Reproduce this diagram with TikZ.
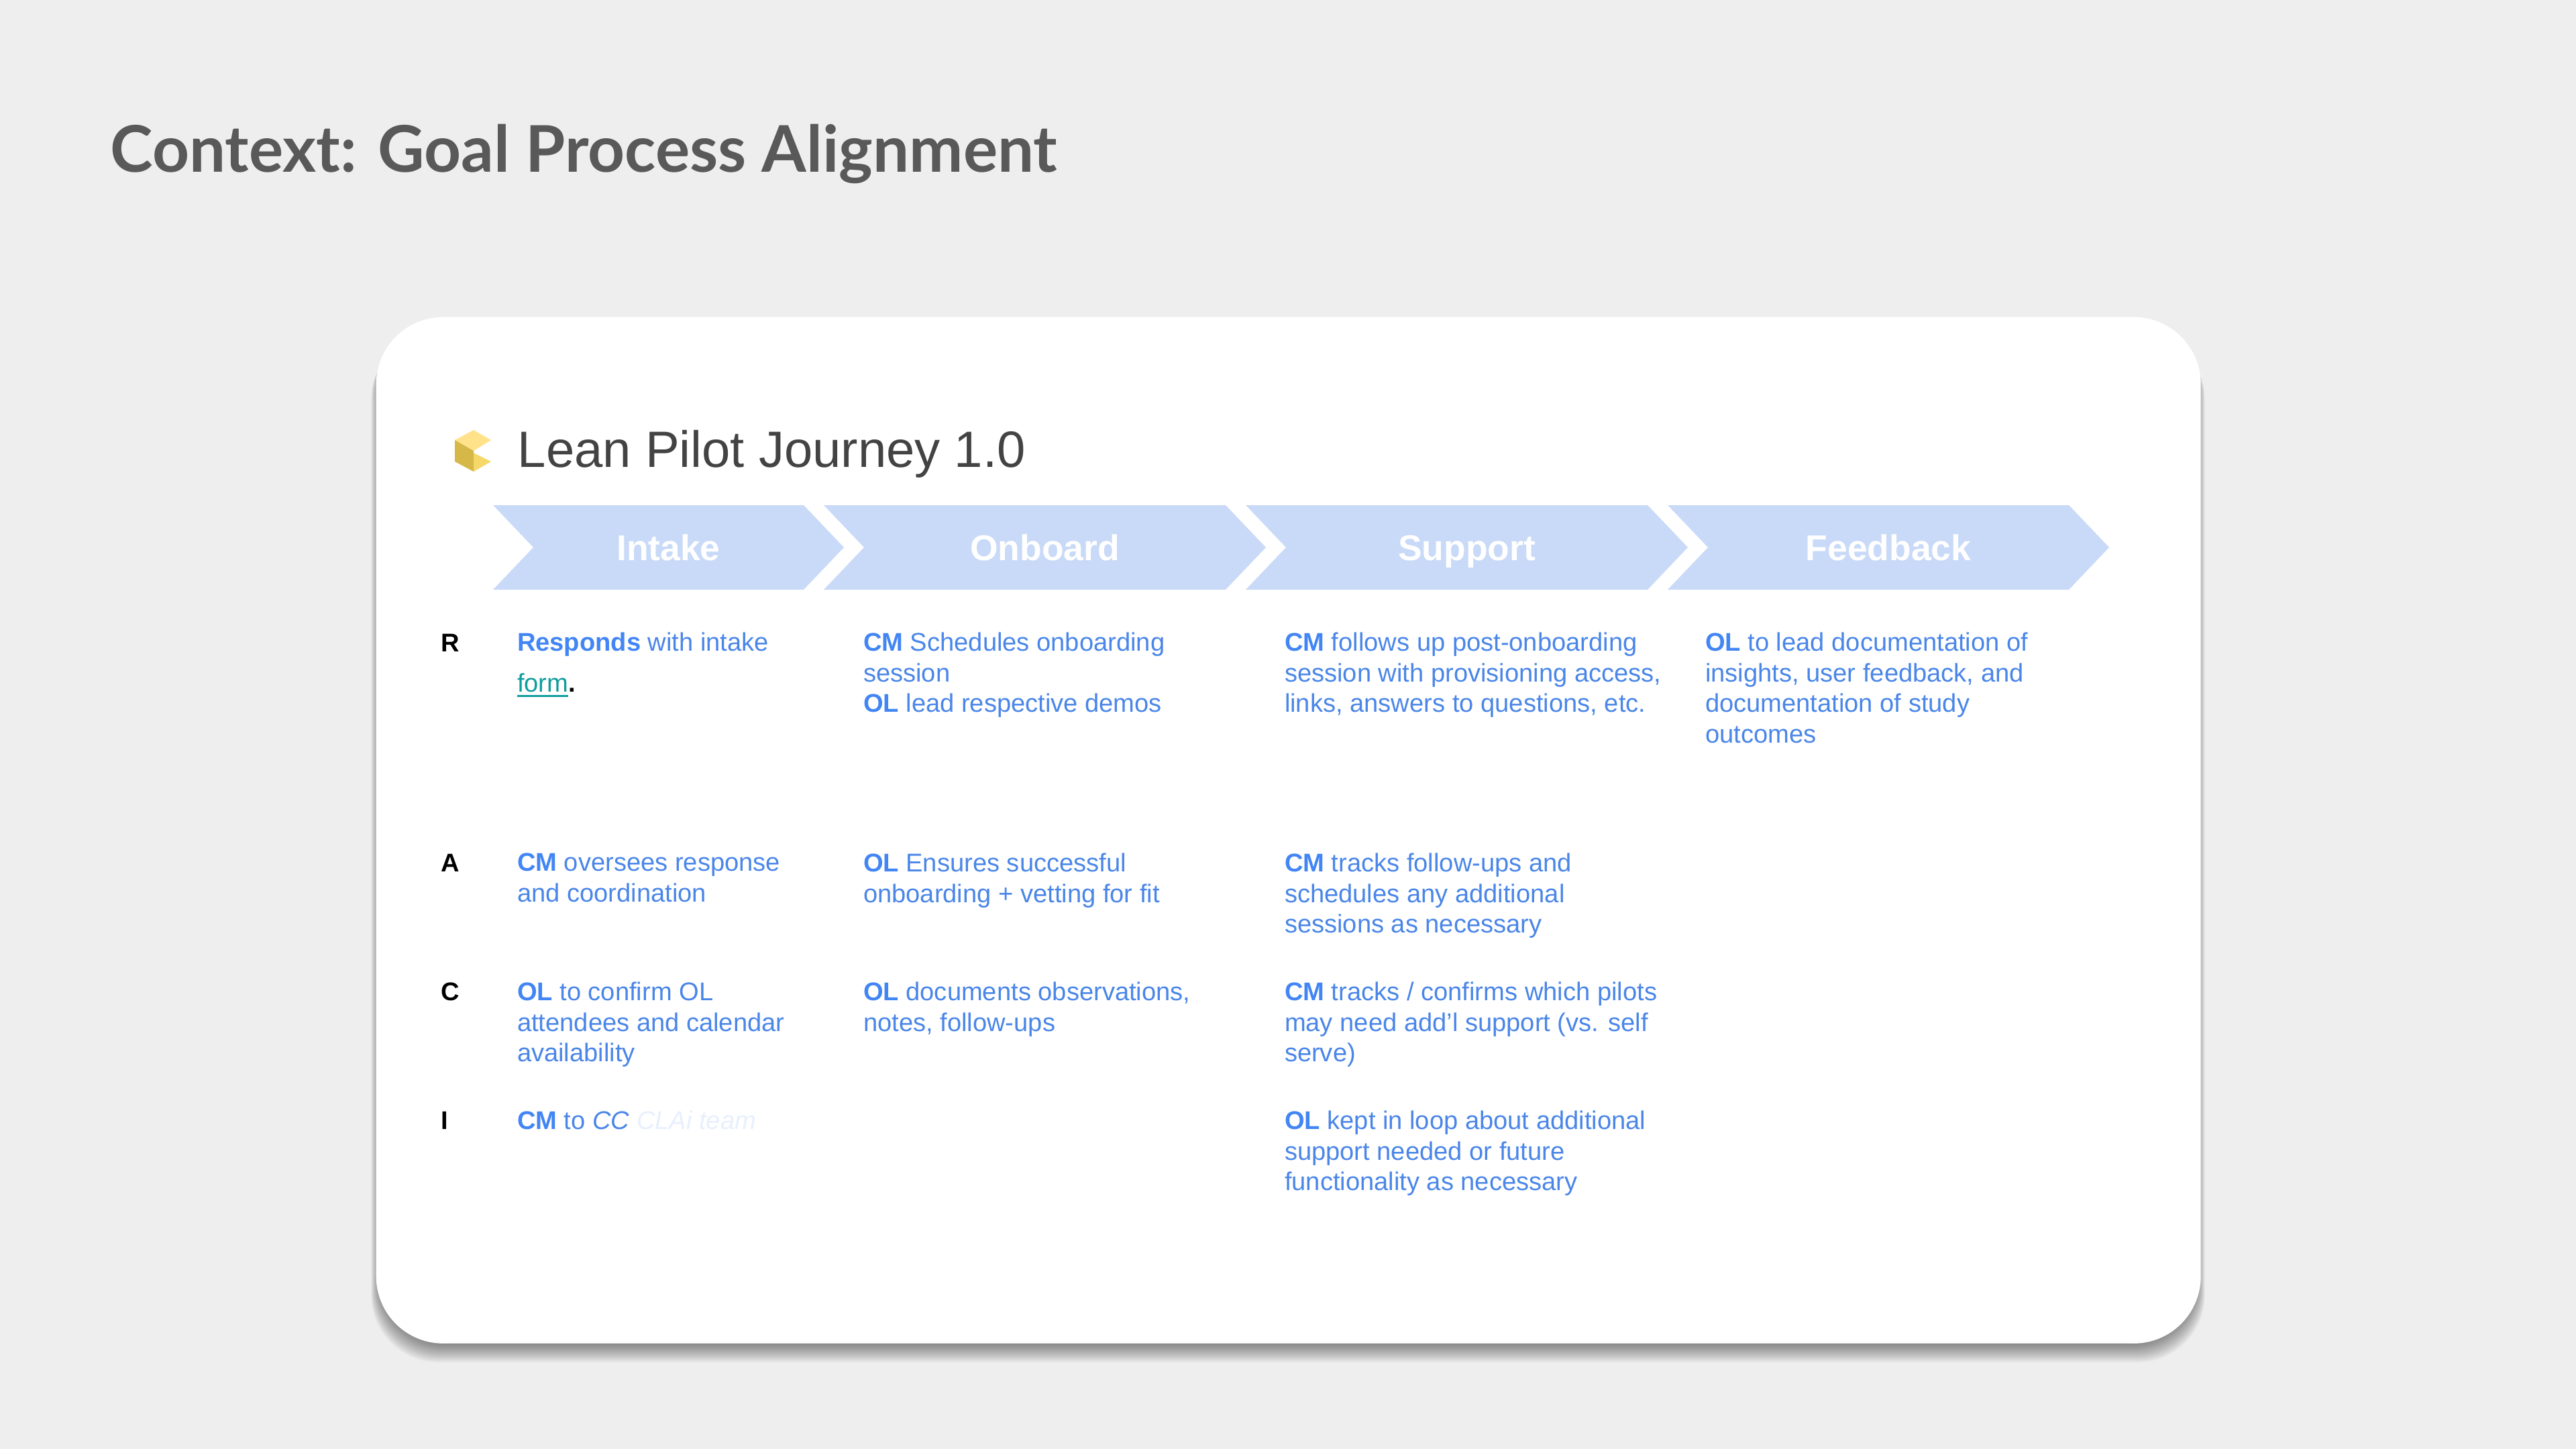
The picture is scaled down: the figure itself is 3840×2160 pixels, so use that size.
\documentclass[tikz,border=0pt]{standalone}
\usepackage{fontspec}
\setmainfont{Liberation Sans}
\newfontfamily\titulofont{Lato}
\usepackage{xcolor}
\usetikzlibrary{shapes.symbols,positioning}
\definecolor{fondo}{HTML}{EEEEEE}
\definecolor{azul}{HTML}{4A86E8}
\definecolor{azulfuerte}{HTML}{4285F4}
\definecolor{azulclaro}{HTML}{C9DAF8}
\definecolor{azultenue}{HTML}{E8F0FE}
\definecolor{gristitulo}{HTML}{595959}
\definecolor{grisjourney}{HTML}{434343}
\definecolor{verdeazul}{HTML}{0F9D9D}
\definecolor{amarillo}{HTML}{FFE28A}
\definecolor{amarillomedio}{HTML}{F6D869}
\definecolor{amarilloosc}{HTML}{D6B848}
\newcommand{\rol}[1]{{\bfseries\color{azulfuerte}#1}}
\newcommand{\subrayado}[1]{\setbox0\hbox{#1}\rlap{\rule[-2pt]{\wd0}{0.7pt}}\box0}
\tikzset{
  etapa/.style={shape=signal,signal from=west,signal to=east,signal pointer angle=92.8,fill=azulclaro,text=white,
    font=\fontsize{15.2}{18}\selectfont\bfseries,text height=11pt,text depth=0pt,minimum height=12.6mm,inner sep=0pt,outer sep=0pt},
  celda/.style={anchor=north west,align=left,inner sep=0pt,outer sep=0pt,text=azul,font=\fontsize{10.85}{12.95}\selectfont},
  letra/.style={anchor=base west,inner sep=0pt,outer sep=0pt,text=black,font=\fontsize{10.85}{13}\selectfont\bfseries},
}
\begin{document}
\begin{tikzpicture}[x=0.1mm,y=-0.1mm]
  \useasboundingbox (0,0) rectangle (3840,2160);
  \fill[fondo] (0,0) rectangle (3840,2160);
  \node[anchor=base west,inner sep=0pt,text=gristitulo,font=\fontsize{27.3}{31}\titulofont\bfseries] (titulo) at (164,256) {Context: Goal Process Alignment};
  % sombra
  \foreach \d in {1,2,...,16}
    \fill[black,opacity=0.03,rounded corners=10mm] (560-\d*0.8+6,472+\d*1.5) rectangle (3280+\d*0.8-6,2002+\d*1.8);
  \node[draw=none,fill=white,rounded corners=10mm,minimum width=272mm,minimum height=153mm,inner sep=0pt,anchor=north west] (tarjeta) at (560,472) {};
  % cubo
  \fill[amarillo] (706,641) -- (732,656) -- (706,672) -- (678,656) -- cycle;
  \fill[amarilloosc] (678,656) -- (706,672) -- (706,703) -- (678,688) -- cycle;
  \fill[amarillomedio] (706,675) -- (732,688) -- (706,703) -- cycle;
  \node[anchor=base west,inner sep=0pt,text=grisjourney,font=\fontsize{21.65}{26}\selectfont] (journey) at (771,696) {Lean Pilot Journey 1.0};
  % etapas
  \node[etapa,minimum width=52.3mm] (intake) at (996.5,816) {Intake};
  \node[etapa,minimum width=65.9mm] (onboard) at (1557.5,816) {Onboard};
  \node[etapa,minimum width=65.9mm] (support) at (2186.5,816) {Support};
  \node[etapa,minimum width=65.8mm] (feedback) at (2815,816) {Feedback};
  % letras
  \node[letra] (r) at (657,971) {R};
  \node[letra] (a) at (657,1299) {A};
  \node[letra] (c) at (657,1491) {C};
  \node[letra] (i) at (657,1683) {I};
  % fila R
  \node[celda] (r1) at (771,943) {\rol{Responds} with intake\\[4.4pt]{\color{verdeazul}\subrayado{form}}{\color{black}\bfseries .}};
  \node[celda] (r2) at (1287,943) {\rol{CM} Schedules onboarding\\session\\\rol{OL} lead respective demos};
  \node[celda] (r3) at (1915,943) {\rol{CM} follows up post-onboarding\\session with provisioning access,\\links, answers to questions, etc.};
  \node[celda] (r4) at (2542,943) {\rol{OL} to lead documentation of\\insights, user feedback, and\\documentation of study\\outcomes};
  % fila A
  \node[celda] (a1) at (771,1272) {\rol{CM} oversees response\\and coordination};
  \node[celda] (a2) at (1287,1272) {\rol{OL} Ensures successful\\onboarding + vetting for fit};
  \node[celda] (a3) at (1915,1272) {\rol{CM} tracks follow-ups and\\schedules any additional\\sessions as necessary};
  % fila C
  \node[celda] (c1) at (771,1464) {\rol{OL} to confirm OL\\attendees and calendar\\availability};
  \node[celda] (c2) at (1287,1464) {\rol{OL} documents observations,\\notes, follow-ups};
  \node[celda] (c3) at (1915,1464) {\rol{CM} tracks / confirms which pilots\\may need add’l support (vs. self\\serve)};
  % fila I
  \node[celda] (i1) at (771,1656) {\rol{CM} to \emph{CC} {\color{azultenue}\emph{CLAi team}}};
  \node[celda] (i3) at (1915,1656) {\rol{OL} kept in loop about additional\\support needed or future\\functionality as necessary};
\end{tikzpicture}
\end{document}
